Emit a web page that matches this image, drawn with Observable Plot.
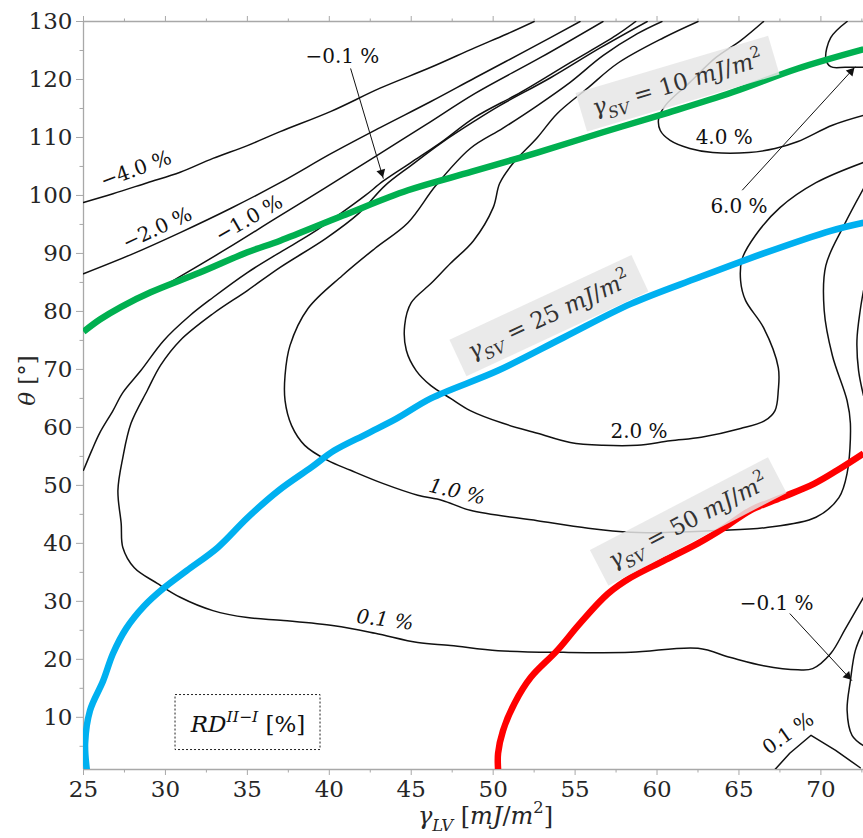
<!DOCTYPE html>
<html><head><meta charset="utf-8">
<script src="https://cdn.jsdelivr.net/npm/d3@7"></script>
<script src="https://cdn.jsdelivr.net/npm/@observablehq/plot@0.6"></script>
<style>body{margin:0;background:#fff}svg{display:block}</style>
</head><body><div id="chart"></div>
<script>
// ---------- axes ----------
const xDomain = [25, 72.6];
const yDomain = [1, 130];
const xMajor = [25, 30, 35, 40, 45, 50, 55, 60, 65, 70];
const xMinor = [27.5, 32.5, 37.5, 42.5, 47.5, 52.5, 57.5, 62.5, 67.5, 72.5];
const yMajor = [10, 20, 30, 40, 50, 60, 70, 80, 90, 100, 110, 120, 130];
const yMinor = [5, 15, 25, 35, 45, 55, 65, 75, 85, 95, 105, 115, 125];

// ---------- iso-lines of gamma_SV ----------
const gsv10 = [[25.0,76.5],[26.0,78.6],[27.3,80.8],[29.1,83.3],[32.1,86.7],[35.0,90.2],[37.0,92.2],[40.8,96.5],[44.8,100.9],[48.7,104.1],[52.7,107.4],[56.7,110.9],[60.7,114.3],[64.6,117.8],[68.6,121.9],[72.6,125.2]];
const gsv25 = [[25.2,1.0],[25.1,5.6],[25.4,11.2],[26.2,16.3],[26.8,21.0],[27.6,25.3],[28.7,29.2],[29.9,32.3],[31.3,35.3],[33.2,39.3],[35.0,44.4],[36.9,49.1],[38.9,53.1],[40.3,56.0],[42.3,58.9],[44.1,61.5],[46.2,65.0],[50.3,69.8],[54.3,75.5],[58.4,81.3],[62.5,85.8],[66.5,90.0],[70.6,93.9],[72.6,95.3]];
const gsv50 = [[50.3,1.0],[50.3,3.8],[50.6,7.7],[51.3,12.4],[52.3,16.9],[53.9,21.5],[55.3,26.2],[57.0,31.3],[58.4,34.1],[60.4,37.0],[62.5,40.0],[64.1,42.7],[65.7,45.7],[67.6,47.9],[69.6,50.3],[71.0,52.6],[72.6,55.5]];

// ---------- RD contours ----------
const cM40 = [[25.0,98.8],[26.8,100.3],[28.9,102.2],[30.9,104.0],[32.9,106.4],[35.0,108.6],[37.0,111.0],[40.1,114.5],[43.1,118.5],[46.2,122.1],[48.9,125.5],[50.8,127.8],[52.5,130.0]];
const cM20 = [[25.0,86.5],[27.9,89.8],[30.9,93.6],[34.0,97.8],[37.0,102.2],[40.1,107.2],[43.1,111.7],[46.2,116.2],[48.9,120.3],[52.3,125.4],[55.3,130.0]];
const cM10 = [[27.6,81.5],[29.1,83.1],[30.7,85.7],[33.8,90.9],[36.7,96.0],[39.8,101.4],[42.8,106.7],[45.9,112.2],[48.9,117.6],[52.9,123.8],[56.7,130.0]];
const cM01 = [[25.0,52.6],[25.5,56.0],[26.0,59.1],[26.8,62.9],[27.4,66.0],[28.5,69.8],[29.9,75.0],[31.5,79.3],[32.9,82.4],[35.0,86.7],[37.0,90.2],[38.9,93.4],[40.7,96.9],[42.2,100.0],[43.3,102.5],[45.0,105.7],[46.8,109.1],[48.9,113.5],[51.7,117.8],[54.7,122.9],[57.5,127.6],[58.7,130.0]];
const cP01 = [[59.4,130.0],[56.5,125.4],[53.5,120.3],[50.4,115.5],[48.9,112.9],[46.8,109.0],[45.0,105.2],[43.4,101.7],[41.8,96.9],[39.8,92.6],[37.0,87.6],[35.0,83.6],[32.9,79.6],[30.9,75.0],[29.7,70.7],[28.9,66.4],[27.9,60.7],[27.4,54.8],[27.1,49.1],[27.3,43.4],[27.4,39.3],[28.1,35.8],[29.5,33.1],[30.9,30.7],[32.9,28.4],[35.0,27.2],[37.2,26.7],[40.3,25.8],[42.8,24.5],[45.4,22.9],[47.4,22.4],[50.3,21.5],[54.3,21.2],[58.4,21.2],[62.5,21.9],[64.5,20.3],[66.5,18.9],[68.6,18.2],[69.5,18.4],[70.6,21.0],[71.5,25.3],[72.6,30.7]];
const cP10 = [[60.3,130.0],[58.8,127.9],[56.7,124.1],[54.7,119.5],[52.7,115.5],[50.6,111.6],[48.6,108.1],[46.5,101.7],[44.8,95.3],[42.8,90.9],[40.8,86.2],[38.7,80.5],[37.6,74.1],[37.3,69.0],[37.3,64.6],[37.7,60.3],[38.5,56.9],[39.9,54.3],[41.3,52.6],[43.3,50.3],[45.4,48.3],[46.9,47.4],[48.6,45.7],[52.7,43.9],[55.8,42.6],[58.4,41.9],[60.8,41.9],[63.6,42.2],[66.6,42.7],[69.7,44.5],[71.1,47.9],[71.6,52.1],[71.8,60.7],[71.6,64.6],[70.7,72.4],[70.2,80.2],[70.3,87.9],[71.4,94.8],[72.6,101.2]];
const cP20 = [[62.5,130.0],[60.4,127.2],[57.6,122.8],[55.8,118.6],[53.9,114.1],[52.7,110.0],[51.2,105.5],[50.4,102.1],[50.0,97.9],[48.8,92.2],[47.4,88.3],[46.2,84.8],[45.0,81.5],[44.6,77.6],[44.7,73.3],[45.3,69.8],[46.2,67.2],[47.4,65.0],[48.6,62.9],[50.6,60.7],[52.7,59.0],[54.7,57.4],[56.7,56.9],[58.8,56.9],[60.8,57.7],[62.7,58.3],[65.1,59.8],[66.6,61.2],[67.2,62.9],[67.4,66.4],[67.4,70.3],[66.5,77.2],[65.4,81.9],[65.1,85.3],[65.2,89.1],[66.0,93.1],[67.5,97.9],[69.7,102.2],[72.6,105.7]];
const cP40 = [[66.5,130.0],[65.1,126.7],[63.6,123.8],[62.0,119.5],[60.5,115.5],[60.1,113.3],[60.2,111.2],[60.8,109.5],[62.0,108.1],[63.4,107.4],[65.6,107.4],[67.2,108.1],[68.6,109.3],[70.7,112.1],[72.6,113.8]];
const cP60 = [[71.6,130.0],[70.6,127.2],[70.3,123.6],[70.6,122.2],[71.5,122.1],[72.6,122.1]];
const cEdge = [[72.6,83.6],[72.4,80.2],[72.2,75.0],[72.3,69.8],[72.6,65.5]];
const cM01b = [[72.6,25.0],[72.1,21.5],[71.8,16.3],[71.6,11.2],[71.9,6.9],[72.6,5.1]];
const cP01b = [[67.2,1.0],[68.1,3.8],[69.4,6.9],[70.9,4.3],[72.4,1.3]];

// ---------- annotations ----------
const contourLabels = ["−4.0 %", "−2.0 %", "−1.0 %", "−0.1 %", "4.0 %", "6.0 %", "2.0 %", "−0.1 %", "0.1 %"];
const contourLabelX = [28.2, 29.5, 35.1, 40.8, 64.1, 65.0, 58.9, 67.3, 68.0];
const contourLabelY = [104.5, 94.3, 96.0, 124.0, 109.9, 98.1, 59.3, 29.6, 7.2];
const contourLabelRot = [-20, -25, -30, 0, 0, 0, 0, 0, -35];
const italicLabels = ["1.0 %", "0.1 %"];
const italicLabelX = [47.8, 43.4];
const italicLabelY = [48.9, 26.8];
const italicLabelRot = [13, 7];

const svLabels = ["*γ*_{*SV*} = 10 *mJ*/*m*^{2}", "*γ*_{*SV*} = 25 *mJ*/*m*^{2}", "*γ*_{*SV*} = 50 *mJ*/*m*^{2}"];
const svLabelX = [61.25, 53.4, 61.9];
const svLabelY = [119.3, 79.3, 43.8];
const svLabelRot = [-16.5, -25, -27.5];

const arrowX1 = [41.3, 65.2, 68.1];
const arrowY1 = [121.9, 100.9, 27.9];
const arrowX2 = [43.3, 72.1, 71.9];
const arrowY2 = [102.9, 122.2, 16.3];

const legendText = "*RD*^{*II−I*} [%]";
const legendX = 35.04, legendY = 8.7;
const xTitle = "*γ*_{*LV*} [*mJ*/*m*^{2}]";
const yTitle = "*θ* [°]";

// ---------- build tables ----------
const W = 863, H = 838, mL = 83, mR = 0, mT = 21, mB = 69;
const toRows = (list) => list.flatMap(([id, pts]) => pts.map(([x, y]) => ({id, x, y})));
const smoothRows = toRows([["m4", cM40], ["m2", cM20], ["m1", cM10], ["m01", cM01], ["p01", cP01], ["p1", cP10], ["p2", cP20], ["p4", cP40], ["p6", cP60], ["edge", cEdge], ["m01b", cM01b]]);
const sharpRows = toRows([["p01b", cP01b]]);
const svRows = toRows([["10", gsv10], ["25", gsv25], ["50", gsv50]]);
const svColor = {"10": "#00b050", "25": "#00b0f0", "50": "#ff0000"};

const labRows = contourLabels.map((t, i) => ({t, x: contourLabelX[i], y: contourLabelY[i], r: contourLabelRot[i]}));
const itRows = italicLabels.map((t, i) => ({t, x: italicLabelX[i], y: italicLabelY[i], r: italicLabelRot[i]}));
const svLab = svLabels.map((t, i) => ({t, x: svLabelX[i], y: svLabelY[i], r: svLabelRot[i]}));
const arrows = arrowX1.map((x1, i) => ({x1, y1: arrowY1[i], x2: arrowX2[i], y2: arrowY2[i]}));

const sx = d3.scaleLinear(xDomain, [mL, W - mR]);
const sy = d3.scaleLinear(yDomain, [H - mB, mT]);
const heads = arrows.map(a => {
  const X1 = sx(a.x1), Y1 = sy(a.y1), X2 = sx(a.x2), Y2 = sy(a.y2);
  const L = Math.hypot(X2 - X1, Y2 - Y1), ux = (X2 - X1) / L, uy = (Y2 - Y1) / L;
  return {x: sx.invert(X2 - ux * 6.5), y: sy.invert(Y2 - uy * 6.5), r: Math.atan2(ux, -uy) * 180 / Math.PI};
});

const axisGray = "#a8a8a8", ink = "#262626";

const svg = Plot.plot({
  width: W, height: H,
  marginLeft: mL, marginRight: mR, marginTop: mT, marginBottom: mB,
  x: {domain: xDomain},
  y: {domain: yDomain},
  style: {fontFamily: "'DejaVu Serif', serif", background: "#fff", color: ink, overflow: "visible"},
  marks: [
    Plot.ruleX([25], {stroke: axisGray, strokeWidth: 1.3}),
    Plot.ruleY([1], {stroke: axisGray, strokeWidth: 1.3}),
    Plot.ruleY([130], {stroke: axisGray, strokeWidth: 1.3}),
    Plot.axisY({ticks: yMajor, tickSize: 7, tickPadding: 4, fontSize: 23, stroke: axisGray, fill: ink, label: null}),
    Plot.axisY({ticks: yMinor, tickSize: 3.5, stroke: axisGray, fill: "none", label: null}),
    Plot.axisX({ticks: xMajor, tickSize: 6, tickPadding: 5, fontSize: 23, stroke: axisGray, fill: ink, label: null}),
    Plot.axisX({ticks: xMinor, tickSize: 3.5, stroke: axisGray, fill: "none", label: null}),
    Plot.axisX({ticks: xMajor, anchor: "top", tickSize: 6, stroke: axisGray, fill: "none", label: null}),
    Plot.axisX({ticks: xMinor, anchor: "top", tickSize: 3.5, stroke: axisGray, fill: "none", label: null}),
    Plot.line(smoothRows, {x: "x", y: "y", z: "id", curve: "catmull-rom", stroke: "#111", strokeWidth: 1.5, clip: true}),
    Plot.line(sharpRows, {x: "x", y: "y", z: "id", curve: "linear", stroke: "#111", strokeWidth: 1.5, clip: true}),
    Plot.line(svRows, {x: "x", y: "y", z: "id", stroke: d => svColor[d.id], curve: "catmull-rom", strokeWidth: 6.5, strokeLinecap: "butt", clip: true}),
    Plot.text(svLab, {x: "x", y: "y", text: "t", rotate: "r", fontSize: 23, fill: "#333"}),
    Plot.text(labRows, {x: "x", y: "y", text: "t", rotate: "r", fontSize: 20, fill: "#111"}),
    Plot.text(itRows, {x: "x", y: "y", text: "t", rotate: "r", fontSize: 20, fontStyle: "italic", fill: "#111"}),
    Plot.link(arrows, {x1: "x1", y1: "y1", x2: "x2", y2: "y2", stroke: "#111", strokeWidth: 1}),
    Plot.dot(heads, {x: "x", y: "y", rotate: "r", symbol: "triangle2", r: 4.3, fill: "#111", stroke: "none"}),
    Plot.text([legendText], {x: () => legendX, y: () => legendY, text: d => d, fontSize: 23, fill: "#111"}),
    Plot.text([xTitle], {frameAnchor: "bottom", textAnchor: "middle", text: d => d, dx: 12, dy: 54, fontSize: 24, fill: ink}),
    Plot.text([yTitle], {frameAnchor: "left", textAnchor: "middle", text: d => d, rotate: -90, dx: -56, dy: -15, fontSize: 23, fill: ink})
  ]
});
document.getElementById("chart").appendChild(svg);

const NS = "http://www.w3.org/2000/svg";
function richify(t, fs) {
  const src = t.textContent;
  while (t.firstChild) t.removeChild(t.firstChild);
  t.setAttribute("style", "white-space:pre");
  const re = /_\{([^}]*)\}|\^\{([^}]*)\}|\*([^*]+)\*|([^_^*]+)/g;
  let m, shift = 0;
  while ((m = re.exec(src))) {
    const ts = document.createElementNS(NS, "tspan");
    let content, target = 0, small = false;
    if (m[1] !== undefined) { content = m[1]; target = 0.3 * fs; small = true; }
    else if (m[2] !== undefined) { content = m[2]; target = -0.45 * fs; small = true; }
    else if (m[3] !== undefined) { content = m[3]; ts.setAttribute("font-style", "italic"); }
    else content = m[4];
    if (small) {
      ts.setAttribute("font-size", (0.68 * fs) + "px");
      if (/^\*.*\*$/.test(content)) { content = content.slice(1, -1); ts.setAttribute("font-style", "italic"); }
    }
    if (target !== shift) { ts.setAttribute("dy", (target - shift) + "px"); shift = target; }
    ts.textContent = content;
    t.appendChild(ts);
  }
}
function addRect(t, attrs) {
  const r = document.createElementNS(NS, "rect");
  for (const k in attrs) r.setAttribute(k, attrs[k]);
  const tr = t.getAttribute("transform"); if (tr) r.setAttribute("transform", tr);
  t.parentNode.insertBefore(r, t);
}
const allTexts = Array.from(svg.querySelectorAll("text"));
for (const t of allTexts) {
  const src = t.textContent;
  if (!/[*_^]/.test(src)) continue;
  const fs = parseFloat(t.closest("g").getAttribute("font-size")) || 22;
  richify(t, fs);
  const b = t.getBBox();
  if (src.startsWith("*γ*_{*SV*}")) {
    addRect(t, {x: b.x - 12, y: b.y - 2, width: b.width + 24, height: b.height + 4, fill: "#e6e6e6", "fill-opacity": 0.85});
  } else if (src.startsWith("*RD*")) {
    const cx = b.x + b.width / 2, cy = b.y + b.height / 2;
    addRect(t, {x: cx - 72.5, y: cy - 27.5, width: 145, height: 55, fill: "none", stroke: "#222", "stroke-width": 1, "stroke-dasharray": "2,2"});
  }
}
</script>
</body></html>
